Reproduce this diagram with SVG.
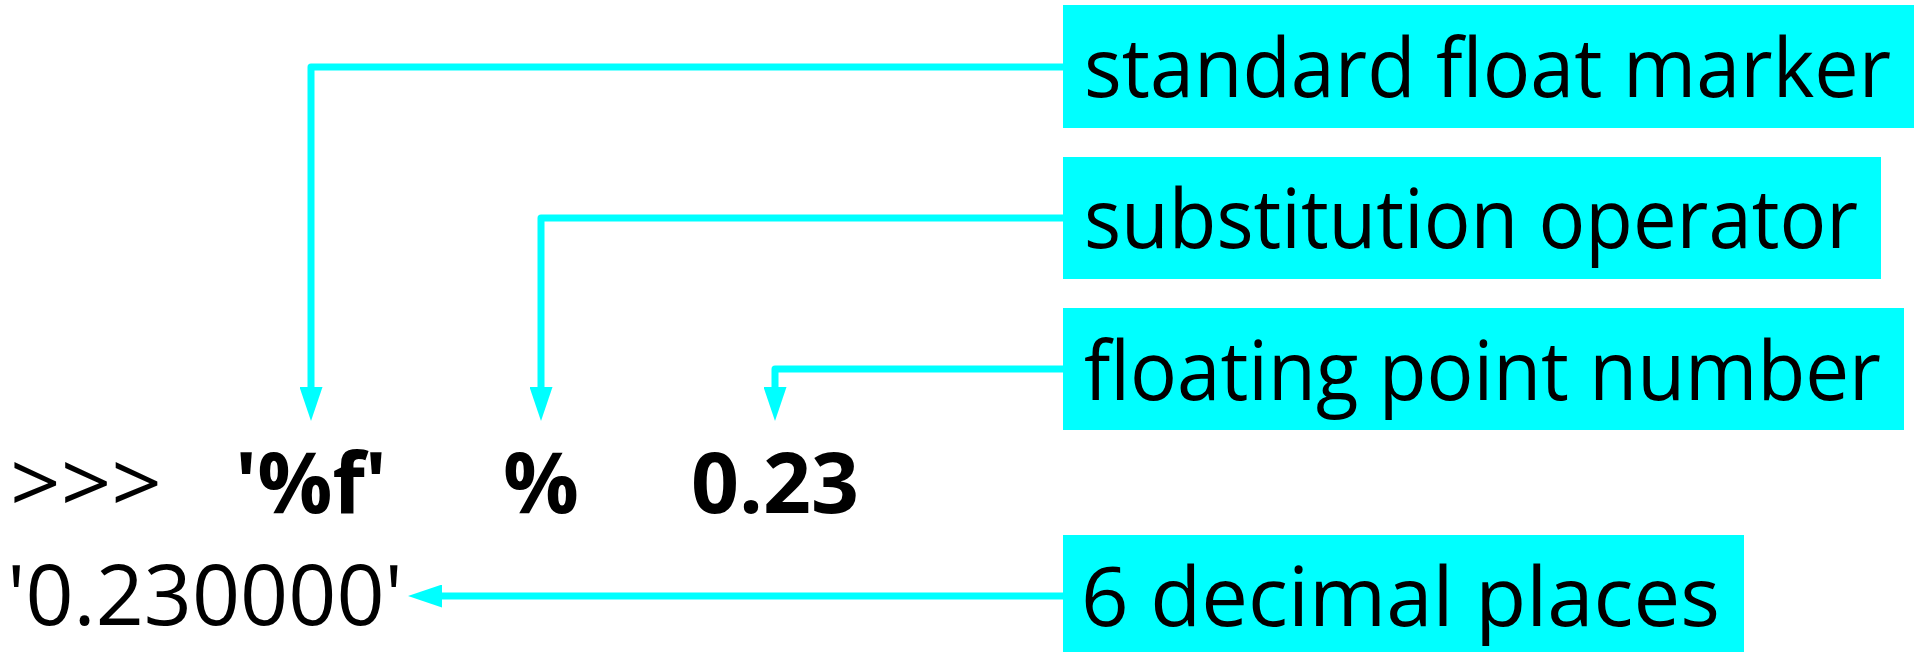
<svg xmlns="http://www.w3.org/2000/svg" width="1918" height="652" viewBox="0 0 1918 652">
  <style>
    .box { fill: #00ffff; }
    .lbl { font-family: "Open Sans", "Noto Sans", sans-serif; font-size: 83px; fill: #000; }
    .code { font-family: "Open Sans", "Noto Sans", sans-serif; font-size: 84px; fill: #000; }
    .bold { font-weight: bold; }
    .wire { fill: none; stroke: #00ffff; stroke-width: 7; stroke-linejoin: round; }
  </style>
  <defs>
    <!-- arrowhead anchored at its base so the line ends under the triangle -->
    <marker id="arrow" markerUnits="userSpaceOnUse" markerWidth="34" markerHeight="23" viewBox="0 0 34 23" refX="0" refY="11.5" orient="auto">
      <path d="M0,0 L34,11.5 L0,23 Z" fill="#00ffff"/>
    </marker>
  </defs>
  <rect width="1918" height="652" fill="#ffffff"/>

  <g id="connectors">
    <path class="wire" d="M1063,67 H311 V387" marker-end="url(#arrow)"/>
    <path class="wire" d="M1063,218 H541 V387" marker-end="url(#arrow)"/>
    <path class="wire" d="M1063,369 H775 V387" marker-end="url(#arrow)"/>
    <path class="wire" d="M1063,596 H442" marker-end="url(#arrow)"/>
  </g>

  <g id="code-input">
    <text class="code" x="10" y="513" textLength="152" lengthAdjust="spacingAndGlyphs">&gt;&gt;&gt;</text>
    <text class="code bold" x="235" y="513" textLength="152" lengthAdjust="spacingAndGlyphs">'%f'</text>
    <text class="code bold" x="503" y="513" textLength="76" lengthAdjust="spacingAndGlyphs">%</text>
    <text class="code bold" x="691" y="513" textLength="168" lengthAdjust="spacingAndGlyphs">0.23</text>
  </g>

  <g id="code-output">
    <text class="code" x="7" y="625" textLength="396" lengthAdjust="spacingAndGlyphs">'0.230000'</text>
  </g>

  <g id="label-float-marker">
    <rect class="box" x="1063" y="5" width="851" height="123"/>
    <text class="lbl" x="1084" y="97" textLength="807" lengthAdjust="spacingAndGlyphs">standard float marker</text>
  </g>

  <g id="label-substitution">
    <rect class="box" x="1063" y="157" width="818" height="122"/>
    <text class="lbl" x="1084" y="248" textLength="774" lengthAdjust="spacingAndGlyphs">substitution operator</text>
  </g>

  <g id="label-float-number">
    <rect class="box" x="1063" y="308" width="841" height="122"/>
    <text class="lbl" x="1084" y="400" textLength="797" lengthAdjust="spacingAndGlyphs">floating point number</text>
  </g>

  <g id="label-decimal-places">
    <rect class="box" x="1063" y="535" width="681" height="117"/>
    <text class="lbl" x="1081" y="626" textLength="639" lengthAdjust="spacingAndGlyphs">6 decimal places</text>
  </g>
</svg>
